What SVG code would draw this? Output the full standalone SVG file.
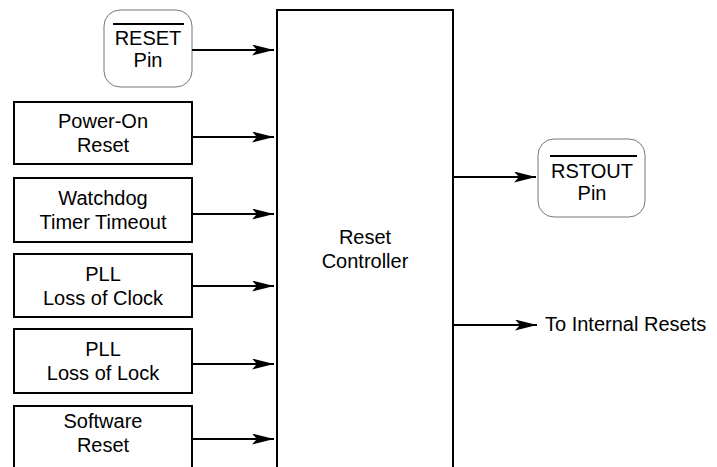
<svg xmlns="http://www.w3.org/2000/svg" width="717" height="467" viewBox="0 0 717 467">
<style>
.box{fill:#fff;stroke:#000;stroke-width:2}
.pin{fill:#fff;stroke:#777;stroke-width:1}
.t{font-family:"Liberation Sans",Arial,sans-serif;font-size:20px;fill:#000;text-anchor:middle}
.c{stroke:#000;stroke-width:2;fill:none;marker-end:url(#ah)}
.ol{stroke:#000;stroke-width:2}
</style>
<defs>
<marker id="ah" markerWidth="22" markerHeight="11" refX="22" refY="5.5" orient="auto" markerUnits="userSpaceOnUse">
<path d="M0,0 L22,5.5 L0,11 L5,5.5 Z" fill="#000"/>
</marker>
</defs>
<g id="controller">
<path class="box" d="M277,480 V10 H453 V480"/>
<text class="t" x="365" y="244">Reset</text>
<text class="t" x="365" y="268">Controller</text>
</g>
<g id="reset-pin">
<rect class="pin" x="104" y="10" width="88" height="77" rx="16"/>
<line class="ol" x1="113" y1="24" x2="184" y2="24"/>
<text class="t" x="148" y="45">RESET</text>
<text class="t" x="148" y="67">Pin</text>
</g>
<g id="power-on">
<rect class="box" x="14" y="102" width="178" height="62"/>
<text class="t" x="103" y="128">Power-On</text>
<text class="t" x="103" y="152">Reset</text>
</g>
<g id="watchdog">
<rect class="box" x="14" y="178" width="178" height="64"/>
<text class="t" x="103" y="205">Watchdog</text>
<text class="t" x="103" y="229">Timer Timeout</text>
</g>
<g id="pll-clock">
<rect class="box" x="14" y="254" width="178" height="63"/>
<text class="t" x="103" y="281">PLL</text>
<text class="t" x="103" y="305">Loss of Clock</text>
</g>
<g id="pll-lock">
<rect class="box" x="14" y="329" width="178" height="64"/>
<text class="t" x="103" y="356">PLL</text>
<text class="t" x="103" y="380">Loss of Lock</text>
</g>
<g id="software">
<path class="box" d="M14,480 V406 H192 V480"/>
<text class="t" x="103" y="428">Software</text>
<text class="t" x="103" y="452">Reset</text>
</g>
<g id="rstout-pin">
<rect class="pin" x="538" y="139" width="107" height="78" rx="16"/>
<line class="ol" x1="550" y1="156" x2="637" y2="156"/>
<text class="t" x="592" y="178">RSTOUT</text>
<text class="t" x="592" y="200">Pin</text>
</g>
<g id="internal-label">
<text class="t" x="545" y="331" style="text-anchor:start">To Internal Resets</text>
</g>
<g id="connectors">
<line class="c" x1="192" y1="50" x2="274" y2="50"/>
<line class="c" x1="192" y1="137" x2="274" y2="137"/>
<line class="c" x1="192" y1="214" x2="274" y2="214"/>
<line class="c" x1="192" y1="286" x2="274" y2="286"/>
<line class="c" x1="192" y1="364" x2="274" y2="364"/>
<line class="c" x1="192" y1="439" x2="274" y2="439"/>
<line class="c" x1="453" y1="177" x2="536" y2="177"/>
<line class="c" x1="453" y1="325" x2="537" y2="325"/>
</g>
</svg>
